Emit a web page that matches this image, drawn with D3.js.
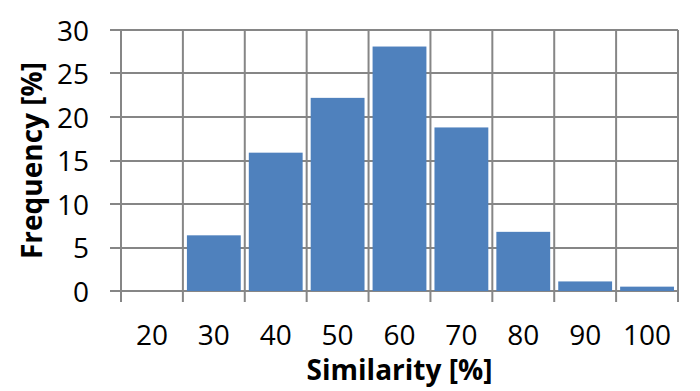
<!DOCTYPE html>
<html>
<head>
<meta charset="utf-8">
<script src="https://cdn.jsdelivr.net/npm/d3@7"></script>
<style>
  body { margin: 0; background: #fff; }
  svg { display: block; }
</style>
</head>
<body>
<div id="app"></div>
<script>
// similarity bins (x categories) and frequency values
const categories = ['20', '30', '40', '50', '60', '70', '80', '90', '100']
const frequency = [0, 6.4, 15.9, 22.2, 28.1, 18.8, 6.8, 1.1, 0.5]
const y_ticks = [0, 5, 10, 15, 20, 25, 30]

const width = 700
const height = 391
const margin = { top: 30, right: 22, bottom: 100, left: 121 }
const font = "'Open Sans', 'Liberation Sans', sans-serif"
const grid_color = '#868686'

const svg = d3
  .select('#app')
  .append('svg')
  .attr('width', width)
  .attr('height', height)
  .style('font-family', font)

// scales
const x_scale = d3
  .scaleBand()
  .domain(categories)
  .range([margin.left, width - margin.right])
  .paddingInner(0.13)
  .paddingOuter(0.065)

const y_scale = d3
  .scaleLinear()
  .domain([0, 30])
  .range([height - margin.bottom, margin.top])

// band edges for vertical gridlines
const step = x_scale.step()
const edges = d3.range(categories.length + 1).map((i) => margin.left + i * step)

// horizontal gridlines (extend left as ticks)
svg.append('g')
  .selectAll('line')
  .data(y_ticks)
  .join('line')
  .attr('x1', margin.left - 11)
  .attr('x2', width - margin.right)
  .attr('y1', (d) => Math.round(y_scale(d)))
  .attr('y2', (d) => Math.round(y_scale(d)))
  .attr('stroke', grid_color)
  .attr('stroke-width', 2)

// vertical gridlines (extend below as ticks)
svg.append('g')
  .selectAll('line')
  .data(edges)
  .join('line')
  .attr('x1', (d) => d)
  .attr('x2', (d) => d)
  .attr('y1', y_scale(30))
  .attr('y2', y_scale(0) + 11)
  .attr('stroke', grid_color)
  .attr('stroke-width', 2)

// bars
svg.append('g')
  .selectAll('rect')
  .data(frequency)
  .join('rect')
  .attr('x', (d, i) => x_scale(categories[i]))
  .attr('width', x_scale.bandwidth())
  .attr('y', (d) => y_scale(d))
  .attr('height', (d) => y_scale(0) - y_scale(d))
  .attr('fill', '#4F81BD')

// y axis labels
const y_axis = d3.axisLeft(y_scale).tickValues(y_ticks).tickSize(0).tickPadding(0)
svg.append('g')
  .attr('transform', `translate(${margin.left - 32},0)`)
  .call(y_axis)
  .call((g) => g.select('.domain').remove())
  .selectAll('text')
  .attr('font-family', font)
  .attr('font-size', 28)
  .attr('fill', '#000')
  .attr('dy', '0.36em')

// x axis labels
const x_axis = d3.axisBottom(x_scale).tickSize(0).tickPadding(0)
svg.append('g')
  .attr('transform', `translate(0,${y_scale(0)})`)
  .call(x_axis)
  .call((g) => g.select('.domain').remove())
  .selectAll('text')
  .attr('font-family', font)
  .attr('font-size', 28)
  .attr('fill', '#000')
  .attr('dy', null)
  .attr('y', 54)

// axis titles
svg.append('text')
  .attr('x', (margin.left + width - margin.right) / 2)
  .attr('y', 380)
  .attr('text-anchor', 'middle')
  .attr('font-size', 28)
  .attr('font-weight', 'bold')
  .text('Similarity [%]')

svg.append('text')
  .attr('transform', `translate(42,${(y_scale(0) + y_scale(30)) / 2}) rotate(-90)`)
  .attr('text-anchor', 'middle')
  .attr('font-size', 28)
  .attr('font-weight', 'bold')
  .text('Frequency [%]')
</script>
</body>
</html>
